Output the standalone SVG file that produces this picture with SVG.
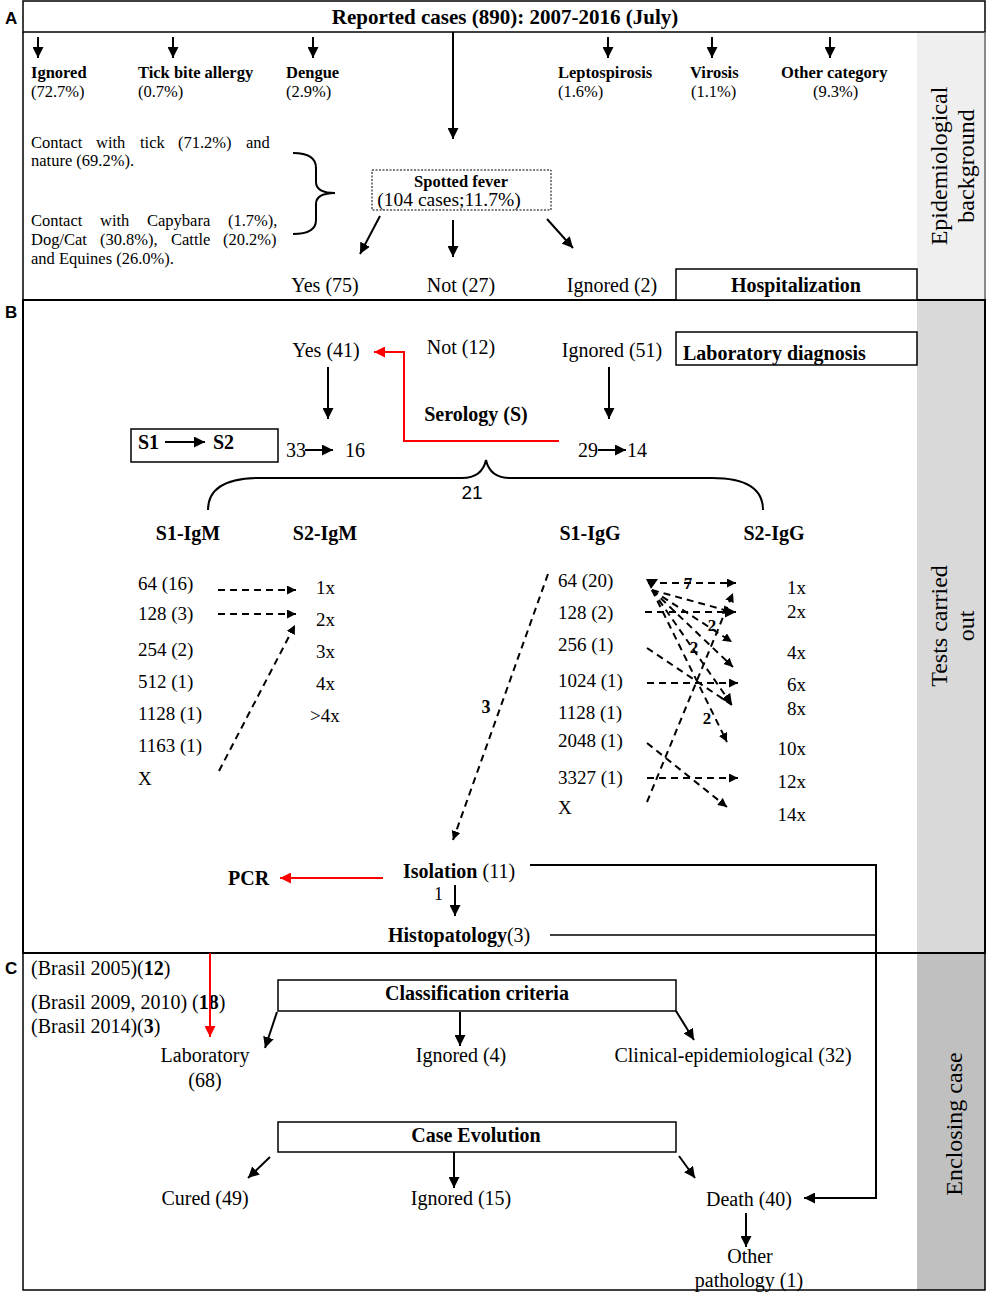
<svg xmlns="http://www.w3.org/2000/svg" width="987" height="1293" viewBox="0 0 987 1293">
<style>
.t{font-family:"Liberation Serif",serif;font-size:20px;fill:#000}
.b{font-weight:bold}
.c{text-anchor:middle}
.cat{font-size:16.5px}
.sm{font-size:16.5px}
.s18{font-size:18px}
.s17{font-size:17px}
.s21{font-size:21px}
.row{font-size:19px}
.side{font-size:24px;text-anchor:middle}
.lbl{font-family:"Liberation Sans",sans-serif;font-weight:bold;font-size:17px;fill:#000}
.ln{stroke:#000;stroke-width:2;fill:none}
.thin{stroke:#000;stroke-width:1.5;fill:none}
.ds{stroke:#000;stroke-width:2;fill:none;stroke-dasharray:7 5}
.red{stroke:#f00;stroke-width:2;fill:none}
.box{fill:#fff;stroke:#000;stroke-width:1.5}
</style>
<defs>
<marker id="ah" viewBox="0 0 10 10" refX="10" refY="5" markerWidth="11" markerHeight="11" markerUnits="userSpaceOnUse" orient="auto"><path d="M0,0L10,5L0,10z" fill="#000"/></marker>
<marker id="ahr" viewBox="0 0 10 10" refX="10" refY="5" markerWidth="11" markerHeight="11" markerUnits="userSpaceOnUse" orient="auto"><path d="M0,0L10,5L0,10z" fill="#f00"/></marker>
<marker id="ahs" viewBox="0 0 10 10" refX="10" refY="5" markerWidth="9" markerHeight="9" markerUnits="userSpaceOnUse" orient="auto"><path d="M0,0L10,5L0,10z" fill="#000"/></marker>
</defs>
<rect width="987" height="1293" fill="#fff"/>

<g id="frames">
<rect x="917" y="32" width="68" height="268" fill="#efefef"/>
<rect x="917" y="300" width="68" height="653" fill="#d9d9d9"/>
<rect x="917" y="953" width="68" height="337" fill="#c0c0c0"/>
<rect x="23" y="1" width="962" height="31" class="box"/>
<line x1="23" y1="32" x2="23" y2="300" class="thin"/>
<line x1="985" y1="32" x2="985" y2="300" stroke="#666" stroke-width="1.5"/>
<rect x="23" y="300" width="962" height="653" fill="none" stroke="#000" stroke-width="2"/>
<rect x="23" y="953" width="962" height="337" fill="none" stroke="#000" stroke-width="1.5"/>
<text x="5" y="24" class="lbl">A</text>
<text x="5" y="318" class="lbl">B</text>
<text x="5" y="974" class="lbl">C</text>
<g transform="translate(947,166) rotate(-90)"><text class="t side" x="0" y="0">Epidemiological</text><text class="t side" x="0" y="27">background</text></g>
<g transform="translate(947,626) rotate(-90)"><text class="t side" x="0" y="0">Tests carried</text><text class="t side" x="0" y="27">out</text></g>
<g transform="translate(962,1124) rotate(-90)"><text class="t side" x="0" y="0">Enclosing case</text></g>
</g>

<g id="title"><text x="505" y="24" class="t b c s21">Reported cases (890): 2007-2016 (July)</text></g>

<g id="categories">
<text x="31" y="78" class="t b cat">Ignored</text><text x="31" y="97" class="t cat">(72.7%)</text>
<text x="138" y="78" class="t b cat">Tick bite allergy</text><text x="138" y="97" class="t cat">(0.7%)</text>
<text x="286" y="78" class="t b cat">Dengue</text><text x="286" y="97" class="t cat">(2.9%)</text>
<text x="558" y="78" class="t b cat">Leptospirosis</text><text x="558" y="97" class="t cat">(1.6%)</text>
<text x="690" y="78" class="t b cat">Virosis</text><text x="691" y="97" class="t cat">(1.1%)</text>
<text x="781" y="78" class="t b cat">Other category</text><text x="813" y="97" class="t cat">(9.3%)</text>
</g>

<g id="contacts" class="t sm">
<text y="148"><tspan x="31">Contact</tspan><tspan x="96">with</tspan><tspan x="140">tick</tspan><tspan x="178">(71.2%)</tspan><tspan x="246">and</tspan></text>
<text x="31" y="166">nature (69.2%).</text>
<text y="226"><tspan x="31">Contact</tspan><tspan x="100">with</tspan><tspan x="147">Capybara</tspan><tspan x="228">(1.7%),</tspan></text>
<text y="245"><tspan x="31">Dog/Cat</tspan><tspan x="100">(30.8%),</tspan><tspan x="171">Cattle</tspan><tspan x="223">(20.2%)</tspan></text>
<text x="31" y="264">and Equines (26.0%).</text>
</g>
<path id="braceA" d="M293,153 Q316,153 316,168 L316,182 Q316,193 335,193 Q316,193 316,204 L316,220 Q316,234 293,234" class="ln"/>

<g id="spotted">
<rect x="372" y="170" width="179" height="40" fill="#fff" stroke="#000" stroke-width="1" stroke-dasharray="2 1.5"/>
<text x="461" y="187" class="t b c sm">Spotted fever</text>
<text x="449" y="206" class="t c" style="font-size:19.5px">(104 cases;11.7%)</text>
</g>

<g id="hosp">
<text x="325" y="292" class="t c">Yes (75)</text>
<text x="461" y="292" class="t c">Not (27)</text>
<text x="612" y="292" class="t c">Ignored (2)</text>
<rect x="676" y="269" width="241" height="31" class="box"/>
<text x="796" y="292" class="t b c">Hospitalization</text>
</g>

<g id="labdiag">
<text x="326" y="357" class="t c">Yes (41)</text>
<text x="461" y="354" class="t c">Not (12)</text>
<text x="612" y="357" class="t c">Ignored (51)</text>
<rect x="676" y="332" width="241" height="33" class="box"/>
<text x="683" y="360" class="t b">Laboratory diagnosis</text>
<text x="476" y="421" class="t b c">Serology (S)</text>
<rect x="131" y="429" width="147" height="33" class="box"/>
<text x="138" y="449" class="t b">S1</text>
<text x="213" y="449" class="t b">S2</text>
<text x="286" y="457" class="t">33</text>
<text x="345" y="457" class="t">16</text>
<text x="578" y="457" class="t">29</text>
<text x="627" y="457" class="t">14</text>
<path d="M208,510 Q208,478 260,478 L462,478 Q482,478 486,460 Q490,478 510,478 L712,478 Q763,478 763,510" class="ln"/>
<text x="472" y="499" class="c" font-family="Liberation Sans, sans-serif" font-size="19">21</text>
</g>

<g id="igm">
<text x="188" y="540" class="t b c">S1-IgM</text>
<text x="325" y="540" class="t b c">S2-IgM</text>
<text x="138" y="590" class="t row">64 (16)</text>
<text x="138" y="620" class="t row">128 (3)</text>
<text x="138" y="656" class="t row">254 (2)</text>
<text x="138" y="688" class="t row">512 (1)</text>
<text x="138" y="720" class="t row">1128 (1)</text>
<text x="138" y="752" class="t row">1163 (1)</text>
<text x="138" y="785" class="t row">X</text>
<text x="316" y="594" class="t row">1x</text>
<text x="316" y="626" class="t row">2x</text>
<text x="316" y="658" class="t row">3x</text>
<text x="316" y="690" class="t row">4x</text>
<text x="310" y="722" class="t row">&gt;4x</text>
</g>

<g id="igg">
<text x="590" y="540" class="t b c">S1-IgG</text>
<text x="774" y="540" class="t b c">S2-IgG</text>
<text x="558" y="587" class="t row">64 (20)</text>
<text x="558" y="619" class="t row">128 (2)</text>
<text x="558" y="651" class="t row">256 (1)</text>
<text x="558" y="687" class="t row">1024 (1)</text>
<text x="558" y="719" class="t row">1128 (1)</text>
<text x="558" y="747" class="t row">2048 (1)</text>
<text x="558" y="784" class="t row">3327 (1)</text>
<text x="558" y="814" class="t row">X</text>
<g class="t row" text-anchor="end">
<text x="806" y="594">1x</text>
<text x="806" y="618">2x</text>
<text x="806" y="659">4x</text>
<text x="806" y="691">6x</text>
<text x="806" y="715">8x</text>
<text x="806" y="755">10x</text>
<text x="806" y="788">12x</text>
<text x="806" y="821">14x</text>
</g>
<g class="t b s17" text-anchor="middle">
<text x="688" y="589">7</text>
<text x="712" y="631">2</text>
<text x="694" y="653">2</text>
<text x="707" y="724">2</text>
</g>
<text x="486" y="713" class="t b c s18">3</text>
</g>

<g id="isolation">
<text x="228" y="885" class="t b">PCR</text>
<text x="403" y="878" class="t"><tspan class="b">Isolation</tspan> (11)</text>
<text x="434" y="900" class="t s18">1</text>
<text x="388" y="942" class="t"><tspan class="b">Histopatology</tspan>(3)</text>
</g>

<g id="classification">
<text x="31" y="975" class="t">(Brasil 2005)(<tspan class="b">12</tspan>)</text>
<text x="31" y="1009" class="t">(Brasil 2009, 2010) (<tspan class="b">18</tspan>)</text>
<text x="31" y="1033" class="t">(Brasil 2014)(<tspan class="b">3</tspan>)</text>
<rect x="278" y="980" width="398" height="31" class="box"/>
<text x="477" y="1000" class="t b c">Classification criteria</text>
<text x="205" y="1062" class="t c">Laboratory</text>
<text x="205" y="1087" class="t c">(68)</text>
<text x="461" y="1062" class="t c">Ignored (4)</text>
<text x="733" y="1062" class="t c">Clinical-epidemiological (32)</text>
</g>

<g id="evolution">
<rect x="278" y="1122" width="398" height="30" class="box"/>
<text x="476" y="1142" class="t b c">Case Evolution</text>
<text x="205" y="1205" class="t c">Cured (49)</text>
<text x="461" y="1205" class="t c">Ignored (15)</text>
<text x="749" y="1206" class="t c">Death (40)</text>
<text x="750" y="1263" class="t c">Other</text>
<text x="749" y="1287" class="t c">pathology (1)</text>
</g>

<g id="connectors">
<line x1="38" y1="37" x2="38" y2="58" class="ln" marker-end="url(#ah)"/>
<line x1="173" y1="37" x2="173" y2="58" class="ln" marker-end="url(#ah)"/>
<line x1="313" y1="37" x2="313" y2="58" class="ln" marker-end="url(#ah)"/>
<line x1="608" y1="37" x2="608" y2="58" class="ln" marker-end="url(#ah)"/>
<line x1="712" y1="37" x2="712" y2="58" class="ln" marker-end="url(#ah)"/>
<line x1="830" y1="37" x2="830" y2="58" class="ln" marker-end="url(#ah)"/>
<line x1="453" y1="32" x2="453" y2="139" class="ln" marker-end="url(#ah)"/>
<line x1="380" y1="216" x2="360" y2="254" class="ln" marker-end="url(#ah)"/>
<line x1="453" y1="220" x2="453" y2="257" class="ln" marker-end="url(#ah)"/>
<line x1="547" y1="219" x2="573" y2="248" class="ln" marker-end="url(#ah)"/>
<line x1="328" y1="367" x2="328" y2="419" class="ln" marker-end="url(#ah)"/>
<line x1="609" y1="367" x2="609" y2="419" class="ln" marker-end="url(#ah)"/>
<polyline points="559,441 404,441 404,352 374,352" class="red" marker-end="url(#ahr)"/>
<line x1="165" y1="442" x2="205" y2="442" class="ln" marker-end="url(#ah)"/>
<line x1="305" y1="450" x2="333" y2="450" class="ln" marker-end="url(#ah)"/>
<line x1="598" y1="450" x2="626" y2="450" class="ln" marker-end="url(#ah)"/>
<line x1="218" y1="590" x2="296" y2="590" class="ds" marker-end="url(#ahs)"/>
<line x1="218" y1="614" x2="296" y2="614" class="ds" marker-end="url(#ahs)"/>
<line x1="219" y1="771" x2="295" y2="625" class="ds" marker-end="url(#ahs)"/>
<line x1="548" y1="574" x2="453" y2="840" class="ds" marker-end="url(#ahs)"/>
<line x1="648" y1="583" x2="736" y2="583" class="ds" marker-end="url(#ahs)"/>
<line x1="645" y1="612" x2="736" y2="612" class="ds" marker-end="url(#ah)"/>
<line x1="652" y1="590" x2="732" y2="612" class="ds" marker-end="url(#ahs)"/>
<line x1="652" y1="590" x2="732" y2="642" class="ds" marker-end="url(#ahs)"/>
<line x1="652" y1="590" x2="733" y2="667" class="ds" marker-end="url(#ahs)"/>
<line x1="652" y1="590" x2="732" y2="705" class="ds" marker-end="url(#ah)"/>
<line x1="652" y1="590" x2="727" y2="742" class="ds" marker-end="url(#ahs)"/>
<line x1="647" y1="648" x2="732" y2="705" class="ds"/>
<line x1="647" y1="683" x2="738" y2="683" class="ds" marker-end="url(#ahs)"/>
<line x1="647" y1="743" x2="727" y2="807" class="ds" marker-end="url(#ahs)"/>
<line x1="647" y1="778" x2="738" y2="778" class="ds" marker-end="url(#ahs)"/>
<line x1="647" y1="802" x2="733" y2="593" class="ds" marker-end="url(#ahs)"/>
<path d="M646,579 L658,579 L651,589 z" fill="#000"/>
<line x1="383" y1="878" x2="280" y2="878" class="red" marker-end="url(#ahr)"/>
<line x1="455" y1="885" x2="455" y2="916" class="ln" marker-end="url(#ah)"/>
<polyline points="530,865 876,865 876,1198 804,1198" class="ln" marker-end="url(#ah)"/>
<line x1="550" y1="935" x2="876" y2="935" class="thin"/>
<line x1="210" y1="953" x2="210" y2="1037" class="red" marker-end="url(#ahr)"/>
<line x1="277" y1="1012" x2="265" y2="1048" class="ln" marker-end="url(#ah)"/>
<line x1="460" y1="1012" x2="460" y2="1046" class="ln" marker-end="url(#ah)"/>
<line x1="676" y1="1011" x2="694" y2="1040" class="ln" marker-end="url(#ah)"/>
<line x1="270" y1="1157" x2="248" y2="1178" class="ln" marker-end="url(#ah)"/>
<line x1="454" y1="1152" x2="454" y2="1188" class="ln" marker-end="url(#ah)"/>
<line x1="679" y1="1156" x2="695" y2="1178" class="ln" marker-end="url(#ah)"/>
<line x1="746" y1="1213" x2="746" y2="1247" class="ln" marker-end="url(#ah)"/>
</g>
</svg>
